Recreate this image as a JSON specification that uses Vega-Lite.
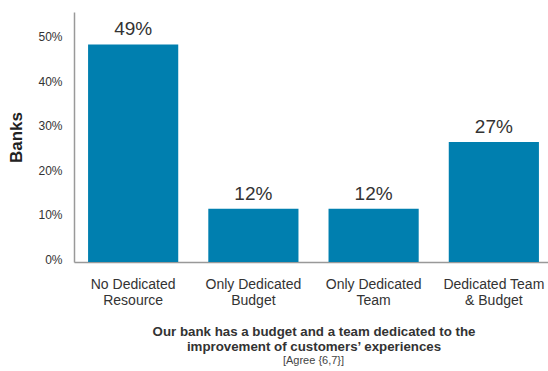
{
  "$schema": "https://vega.github.io/schema/vega-lite/v6.json",
  "autosize": {"type": "none"},
  "width": 479,
  "height": 250,
  "padding": {"left": 74, "top": 12, "right": 0, "bottom": 109},
  "background": "white",
  "config": {
    "font": "Liberation Sans",
    "view": {"stroke": null}
  },
  "data": {
    "values": [
      {"group": "No Dedicated|Resource", "share": 0.49},
      {"group": "Only Dedicated|Budget", "share": 0.12},
      {"group": "Only Dedicated|Team", "share": 0.12},
      {"group": "Dedicated Team|& Budget", "share": 0.27}
    ]
  },
  "title": {
    "text": "[Agree {6,7}]",
    "orient": "bottom",
    "anchor": "middle",
    "font": "Liberation Sans",
    "fontSize": 11,
    "fontWeight": "normal",
    "color": "#444444",
    "offset": 3
  },
  "encoding": {
    "x": {
      "field": "group",
      "type": "nominal",
      "sort": null,
      "scale": {"paddingInner": 0.25, "paddingOuter": 0.117},
      "axis": {
        "labelAngle": 0,
        "labelExpr": "split(datum.value, '|')",
        "labelFontSize": 14,
        "labelColor": "#333333",
        "labelPadding": 15,
        "labelLineHeight": 16,
        "ticks": false,
        "domainColor": "#999999",
        "domainWidth": 1.5,
        "title": ["Our bank has a budget and a team dedicated to the", "improvement of customers\u2019 experiences"],
        "titleFontSize": 13.3,
        "titleFontWeight": "bold",
        "titleColor": "#333333",
        "titlePadding": 17,
        "titleLineHeight": 15
      }
    },
    "y": {
      "field": "share",
      "type": "quantitative",
      "scale": {"domain": [0, 0.563], "nice": false},
      "axis": {
        "values": [0, 0.1, 0.2, 0.3, 0.4, 0.5],
        "format": ".0%",
        "grid": false,
        "ticks": false,
        "labelFontSize": 12,
        "labelColor": "#333333",
        "labelPadding": 12,
        "labelOffset": -3,
        "domainColor": "#999999",
        "domainWidth": 1.5,
        "title": "Banks",
        "titleFontSize": 17,
        "titleFontWeight": "bold",
        "titleColor": "#222222",
        "titlePadding": 12
      }
    }
  },
  "layer": [
    {"mark": {"type": "bar", "color": "#007FAF"}},
    {
      "mark": {"type": "text", "baseline": "bottom", "dy": -5, "fontSize": 19, "color": "#333333"},
      "encoding": {"text": {"field": "share", "type": "quantitative", "format": ".0%"}}
    }
  ]
}
